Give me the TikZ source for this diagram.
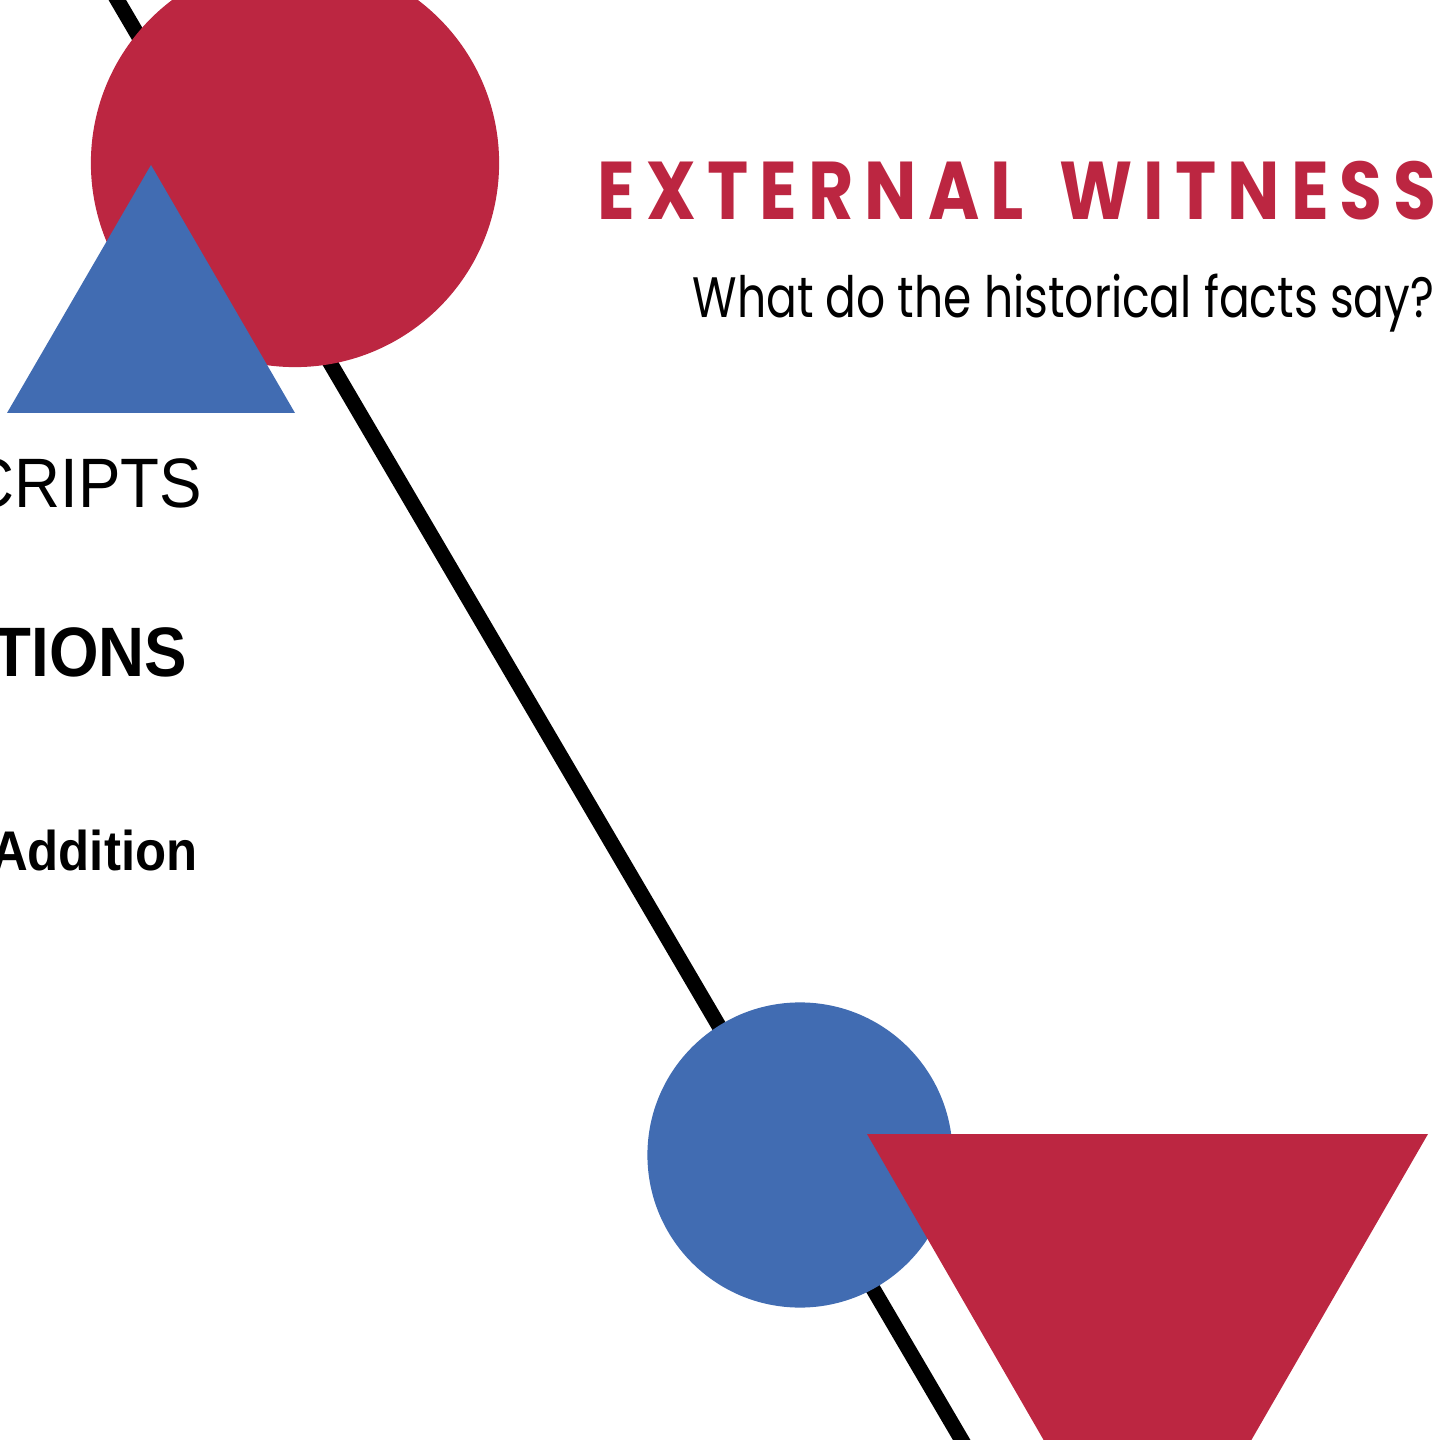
\documentclass[tikz,border=0pt]{standalone}
\usepackage{fontspec}
\setmainfont{Liberation Sans}[FakeStretch=0.91]
\newfontfamily\titlefont[LetterSpace=13.5,FakeStretch=0.85]{Poppins}
\newfontfamily\questionfont[FakeStretch=0.80]{Poppins}
\definecolor{witnessred}{HTML}{BC2641}
\definecolor{witnessblue}{HTML}{416CB2}
\tikzset{
  redshape/.style={fill=witnessred},
  blueshape/.style={fill=witnessblue},
  sidetext/.style={anchor=base east, inner sep=0pt}
}

\begin{document}
\begin{tikzpicture}[x=0.01cm,y=-0.01cm]
\useasboundingbox (0,0) rectangle (1445,1440);
\clip (0,0) rectangle (1445,1440);
% timeline
\draw[line width=4.3pt] (88,-50) -- (991,1490);
% top group
\path[redshape] (295,163) circle[radius=2.04cm];
\path[blueshape] (151,165) -- (295,413) -- (7,413) -- cycle;
% bottom group
\path[blueshape] (800,1155) circle[radius=1.525cm];
\path[redshape] (867,1134) -- (1428,1134) -- (1147.5,1620) -- cycle;
% heading
\node[anchor=base west, inner sep=0pt, text=witnessred,
  font=\titlefont\bfseries\fontsize{23.3}{28}\selectfont] (title) at (597,220) {EXTERNAL\hspace{0.1cm} WITNESS};
\node[anchor=base east, inner sep=0pt,
  font=\questionfont\fontsize{16.2}{20}\selectfont] (question) at (1435,318) {What do the historical facts say?};
% cut-off list on the left
\node[sidetext, font=\fontsize{19.9}{24}\selectfont] (scripts) at (203,508) {MANUSCRIPTS};
\node[sidetext, font=\bfseries\fontsize{19.9}{24}\selectfont] (versions) at (188,677) {TRANSLATIONS};
\node[sidetext, font=\bfseries\fontsize{15.9}{19}\selectfont] (addition) at (198,871) {Addition};
\end{tikzpicture}
\end{document}
